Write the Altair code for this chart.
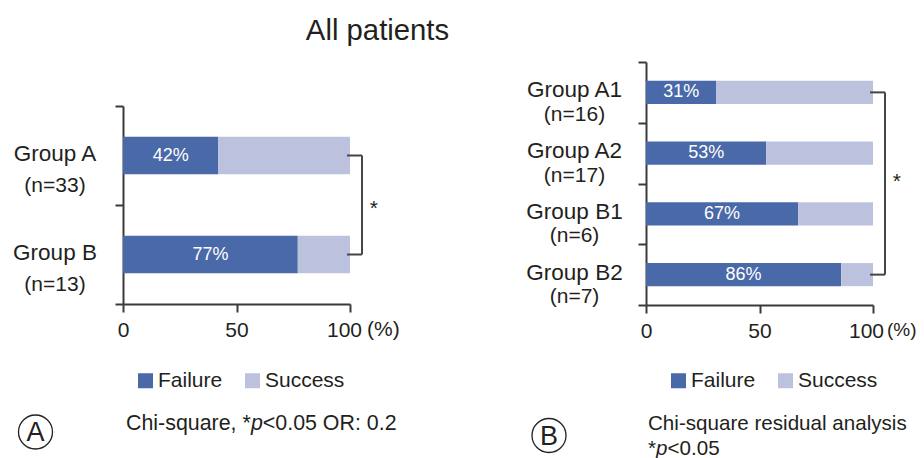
import altair as alt
import pandas as pd

# ---------------- data ----------------
groups_a = ["Group A", "Group B"]
n_a = [33, 13]
failure_a = [42, 77]

groups_b = ["Group A1", "Group A2", "Group B1", "Group B2"]
n_b = [16, 17, 6, 7]
failure_b = [31, 53, 67, 86]

outcomes = ["Failure", "Success"]
colors = ["#4A69A8", "#BCC2DE"]
x_ticks = [0, 50, 100]

title_text = "All patients"
caption_a = ["Chi-square, *", "p", "<0.05 OR: 0.2"]
caption_b1 = "Chi-square residual analysis"
caption_b2 = ["*", "p", "<0.05"]

FONT = "Liberation Sans"
TXT = "#231F20"
AX = "#3A3A3A"
BR = "#444444"


def bar_frame(groups, fails):
    rows = []
    for g, f in zip(groups, fails):
        rows.append(dict(group=g, outcome="Failure", start=0, end=f))
        rows.append(dict(group=g, outcome="Success", start=f, end=100))
    return pd.DataFrame(rows)


def text_frame(groups, ns, fails):
    return pd.DataFrame({
        "group": groups,
        "n": [f"(n={n})" for n in ns],
        "mid": [f / 2 for f in fails],
        "pct": [f"{f}%" for f in fails],
    })


def panel(groups, ns, fails, height, yrange, lab_x, dy1, dy2, hundred_off, pct_dx, pct_size,
          legend_x, legend_y, star_y, circle_x, circle_y, letter, captions, cap_size,
          extra=None):
    sc = dict(domain=groups, paddingInner=0, paddingOuter=0)
    if yrange is not None:
        sc["range"] = yrange
    y_main = alt.Y(
        "group:N", title=None, sort=groups, scale=alt.Scale(**sc),
        axis=alt.Axis(labels=False, tickBand="extent", tickSize=8, tickWidth=2, domainWidth=2,
                      domainColor=AX, tickColor=AX, grid=False),
    )
    y_plain = alt.Y("group:N", title=None)
    x_main = alt.X(
        "start:Q", title=None, scale=alt.Scale(domain=[0, 100], nice=False),
        axis=alt.Axis(values=x_ticks, tickSize=8, tickWidth=2, domainWidth=2,
                      domainColor=AX, tickColor=AX, labelFontSize=21, labelFont=FONT,
                      labelColor=TXT, labelPadding=7, labelFlush=False, grid=False,
                      labelOffset={"condition": {"test": "datum.value == 100",
                                                 "value": hundred_off}, "value": 0}),
    )
    bars = alt.Chart(bar_frame(groups, fails)).mark_bar(height={"band": 0.38}).encode(
        x=x_main, x2="end:Q", y=y_main,
        color=alt.Color("outcome:N", scale=alt.Scale(domain=outcomes, range=colors),
                        legend=alt.Legend(orient="none", legendX=legend_x, legendY=legend_y,
                                          direction="horizontal", title=None,
                                          symbolType="square", symbolSize=225,
                                          symbolStrokeWidth=0, symbolOpacity=1,
                                          labelFontSize=21, labelFont=FONT, labelColor=TXT,
                                          columnPadding=19, labelOffset=2, padding=0)),
    )
    tf = text_frame(groups, ns, fails)
    btxt = alt.Chart(tf).mark_text(
        color="white", fontSize=18, font=FONT, baseline="middle").encode(
        x=alt.X("mid:Q", title=None), y=y_plain, text="pct:N")
    lab1 = alt.Chart(tf).mark_text(
        color=TXT, fontSize=22.5, font=FONT, align="center", baseline="alphabetic", dy=dy1).encode(
        x=alt.value(lab_x), y=y_plain, text="group:N")
    lab2 = alt.Chart(tf).mark_text(
        color=TXT, fontSize=21, font=FONT, align="center", baseline="alphabetic", dy=dy2).encode(
        x=alt.value(lab_x), y=y_plain, text="n:N")

    br_h = alt.Chart(pd.DataFrame({"group": [groups[0], groups[-1]],
                                   "b1": [98.7, 98.7], "b2": [105.3, 105.3]})).mark_rule(
        color=BR, strokeWidth=2).encode(x=alt.X("b1:Q", title=None), x2="b2:Q", y=y_plain)
    br_v = alt.Chart(pd.DataFrame({"ya": [groups[0]], "yb": [groups[-1]], "bx": [105.3]})).mark_rule(
        color=BR, strokeWidth=2).encode(x=alt.X("bx:Q", title=None),
                                        y=alt.Y("ya:N", title=None), y2="yb:N")
    star = alt.Chart(pd.DataFrame({"t": ["*"]})).mark_text(
        fontSize=21, font=FONT, color=TXT, baseline="middle").encode(
        x=alt.datum(110.5), y=alt.value(star_y), text="t:N")
    pct = alt.Chart(pd.DataFrame({"t": ["(%)"]})).mark_text(
        fontSize=pct_size, font=FONT, color=TXT, baseline="top", align="left", dx=pct_dx).encode(
        x=alt.datum(100), y=alt.value(height + 8 + 7 + (21 - pct_size) * 0.7), text="t:N")
    circ = alt.Chart(pd.DataFrame({"t": [letter]})).mark_point(
        shape="circle", size=1156, filled=False, color="#222222", strokeWidth=1.3, opacity=1).encode(
        x=alt.value(circle_x), y=alt.value(circle_y))
    let = alt.Chart(pd.DataFrame({"t": [letter]})).mark_text(
        fontSize=27, font=FONT, color="#222222", baseline="middle", dy=1).encode(
        x=alt.value(circle_x), y=alt.value(circle_y), text="t:N")
    layers = [bars, btxt, lab1, lab2, br_h, br_v, star, pct, circ, let]
    for (txt, cx, cy, italic) in captions:
        layers.append(alt.Chart(pd.DataFrame({"t": [txt]})).mark_text(
            fontSize=cap_size, font=FONT, color=TXT, align="left", baseline="alphabetic",
            fontStyle="italic" if italic else "normal").encode(
            x=alt.value(cx), y=alt.value(cy), text="t:N"))
    if extra:
        layers.extend(extra)
    return alt.layer(*layers).properties(width=227, height=height)


title_mark = alt.Chart(pd.DataFrame({"t": [title_text]})).mark_text(
    fontSize=29.3, font=FONT, color=TXT, align="center", baseline="alphabetic").encode(
    x=alt.value(254.5), y=alt.value(-22.5), text="t:N")

cap_a = [
    (caption_a[0], 3, 368, False),
    (caption_a[1], 127.9, 368, True),
    (caption_a[2], 139.8, 368, False),
]
cap_b = [
    (caption_b1, 2, 368, False),
    (caption_b2[0], 2, 393, False),
    (caption_b2[1], 10.0, 393, True),
    (caption_b2[2], 21.5, 393, False),
]

# panel A: its band axis is drawn from 44 px below the shared top edge
panel_a = panel(groups_a, n_a, failure_a, 242, [44, 242], -68, 5, 36, -6, 17, 21,
                12, 308, 147, -87.5, 370, "A", cap_a, 21.4, extra=[title_mark])
panel_b = panel(groups_b, n_b, failure_b, 243, None, -71.5, 5, 28.5, -7, 14, 19,
                22, 308, 120, -97, 373.5, "B", cap_b, 20.6)

chart = alt.hconcat(panel_a, panel_b, spacing=296, bounds="flush").resolve_scale(
    color="independent", x="independent", y="independent"
).resolve_legend(color="independent").properties(
    padding={"left": 5, "top": 8, "right": -1, "bottom": 0},
    background="white",
).configure_view(stroke=None, strokeWidth=0)

chart.save("out.html", embed_options={"renderer": "svg", "actions": False})
